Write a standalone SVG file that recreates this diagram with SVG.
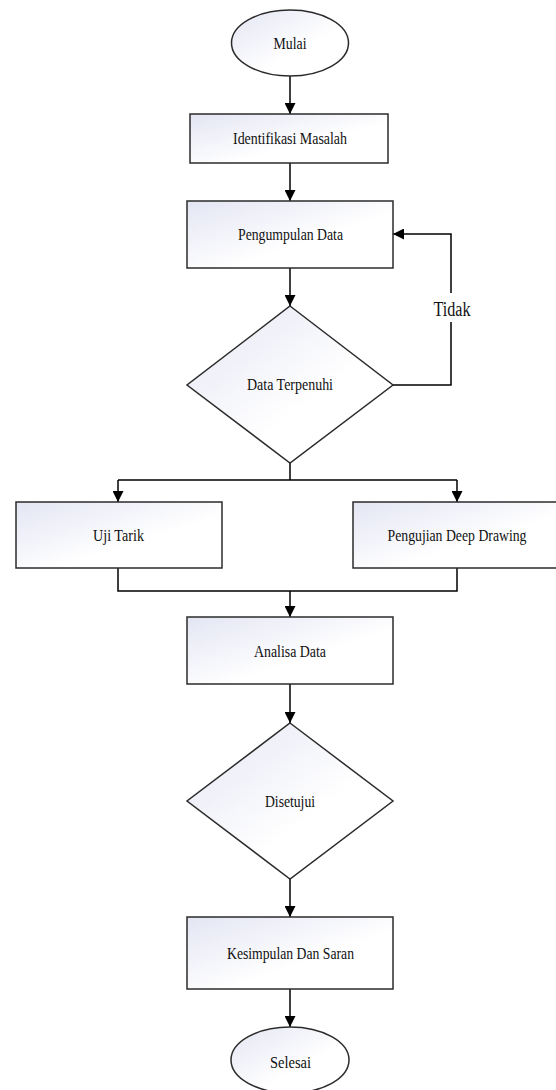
<svg xmlns="http://www.w3.org/2000/svg" width="556" height="1090" viewBox="0 0 556 1090">
<style>
.shape{fill:url(#g);stroke:#2b2b2b;stroke-width:1.5}
.lbl{font-family:"Liberation Serif","DejaVu Serif",serif;font-size:16px;fill:#111;text-anchor:middle}
.edge{fill:none;stroke:#000;stroke-width:1.5}
.arr{marker-end:url(#ah)}
</style>
<defs>
<linearGradient id="g" x1="0" y1="0" x2="1" y2="1">
<stop offset="0" stop-color="#e3e5f3"/>
<stop offset="0.6" stop-color="#ffffff"/>
<stop offset="1" stop-color="#ffffff"/>
</linearGradient>
<marker id="ah" markerUnits="userSpaceOnUse" markerWidth="11" markerHeight="11" refX="11" refY="5.5" orient="auto" viewBox="0 0 11 11">
<path d="M0,0 L11,5.5 L0,11 z" fill="#000"/>
</marker>
</defs>
<rect width="556" height="1090" fill="#fff"/>
<g id="connectors">
<path class="edge arr" d="M290,76 V114"/>
<path class="edge arr" d="M290,163 V201"/>
<path class="edge arr" d="M290,268 V306"/>
<path class="edge arr" d="M393,385 H451 V234 H393"/>
<path class="edge" d="M290,463 V480 M118,480 H457"/>
<path class="edge arr" d="M118,480 V502"/>
<path class="edge arr" d="M457,480 V502"/>
<path class="edge" d="M118,568 V591 H457 V568"/>
<path class="edge arr" d="M290,591 V617"/>
<path class="edge arr" d="M290,684 V723"/>
<path class="edge arr" d="M290,879 V917"/>
<path class="edge arr" d="M290,989 V1027"/>
<rect x="432" y="293" width="40" height="29" fill="#fff"/>
<text class="lbl" x="452" y="315.5" style="font-size:20px" textLength="37" lengthAdjust="spacingAndGlyphs">Tidak</text>
</g>
<g id="mulai"><ellipse class="shape" cx="290" cy="43" rx="58.5" ry="33"/><text class="lbl" x="290" y="48.5" textLength="33" lengthAdjust="spacingAndGlyphs">Mulai</text></g>
<g id="identifikasi"><rect class="shape" x="190" y="114" width="198" height="49"/><text class="lbl" x="290" y="144" textLength="114" lengthAdjust="spacingAndGlyphs">Identifikasi Masalah</text></g>
<g id="pengumpulan"><rect class="shape" x="187" y="201" width="206" height="67"/><text class="lbl" x="290.5" y="240" textLength="105" lengthAdjust="spacingAndGlyphs">Pengumpulan Data</text></g>
<g id="terpenuhi"><polygon class="shape" points="290,306 393,385 290,463 187,385"/><text class="lbl" x="290" y="390" textLength="86" lengthAdjust="spacingAndGlyphs">Data Terpenuhi</text></g>
<g id="ujitarik"><rect class="shape" x="16" y="502" width="206" height="66"/><text class="lbl" x="118.5" y="541" textLength="51" lengthAdjust="spacingAndGlyphs">Uji Tarik</text></g>
<g id="deepdrawing"><rect class="shape" x="353" y="502" width="208" height="66"/><text class="lbl" x="457" y="541" textLength="139" lengthAdjust="spacingAndGlyphs">Pengujian Deep Drawing</text></g>
<g id="analisa"><rect class="shape" x="187" y="617" width="206" height="67"/><text class="lbl" x="290" y="657" textLength="72" lengthAdjust="spacingAndGlyphs">Analisa Data</text></g>
<g id="disetujui"><polygon class="shape" points="290,723 393,801 290,879 187,801"/><text class="lbl" x="290" y="807" textLength="50" lengthAdjust="spacingAndGlyphs">Disetujui</text></g>
<g id="kesimpulan"><rect class="shape" x="187" y="917" width="206" height="72"/><text class="lbl" x="290.5" y="959" textLength="127" lengthAdjust="spacingAndGlyphs">Kesimpulan Dan Saran</text></g>
<g id="selesai"><ellipse class="shape" cx="290" cy="1060" rx="59" ry="33"/><text class="lbl" x="290.5" y="1068" textLength="41" lengthAdjust="spacingAndGlyphs">Selesai</text></g>
</svg>
